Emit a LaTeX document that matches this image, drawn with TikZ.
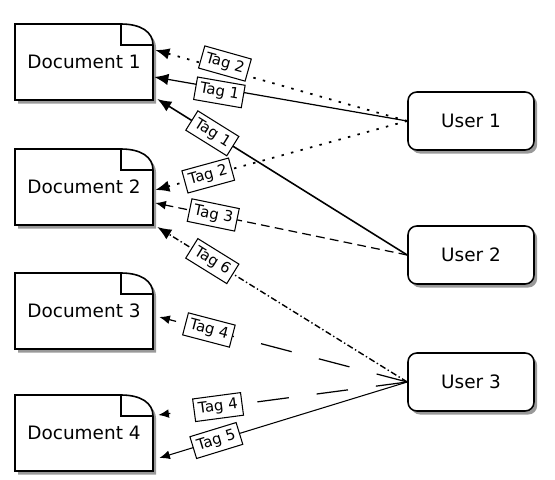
\documentclass[tikz,border=0pt]{standalone}
\usepackage{fontspec}
\setmainfont{DejaVu Sans}
\usetikzlibrary{arrows.meta,shadows}

\tikzset{
  boxshadow/.style={drop shadow={shadow xshift=1.8pt, shadow yshift=-2pt, opacity=0.8}},
  docshape/.style={draw, line width=0.9pt, fill=white, boxshadow},
  doclabel/.style={inner sep=0pt, minimum width=2.76cm, minimum height=1.52cm,
    font=\fontsize{10.5}{12}\selectfont},
  userbox/.style={draw, line width=0.9pt, fill=white, rounded corners=5pt, boxshadow,
    minimum width=2.52cm, minimum height=1.16cm, font=\fontsize{10.5}{12}\selectfont},
  tagbox/.style={draw, solid, fill=white, line width=0.6pt, inner sep=2.5pt, sloped,
    font=\fontsize{8.5}{10}\selectfont},
  tagline/.style={-{Latex[length=8pt,width=6.5pt]}, line width=0.7pt},
  smalltip/.style={-{Latex[length=6pt,width=5pt]}},
  dotline/.style={tagline, line width=1pt, dash pattern=on 1.4pt off 4.2pt},
  dashline/.style={tagline, smalltip, dash pattern=on 5pt off 3pt},
  dashdotline/.style={tagline, line width=0.8pt, dash pattern=on 3.5pt off 1.5pt on 0.8pt off 1.5pt},
  longdashline/.style={tagline, smalltip, dash pattern=on 18pt off 16pt}
}

\begin{document}
\begin{tikzpicture}[x=0.02cm, y=-0.02cm]
  \useasboundingbox (0,0) rectangle (555,480);

  % documents with a folded corner
  \foreach \n/\y in {1/62, 2/187, 3/311, 4/433}
  {
    \draw[docshape] (15,\y-38) -- (121,\y-38)
      .. controls (141,\y-38) and (153,\y-30) .. (153,\y-17)
      -- (153,\y+38) -- (15,\y+38) -- cycle;
    \draw[line width=0.9pt] (121,\y-38) |- (153,\y-17);
    \node[doclabel] (doc\n) at (84,\y) {Document \n};
  }

  % users
  \foreach \n/\y in {1/121, 2/255, 3/382}
    \node[userbox] (user\n) at (471,\y) {User \n};

  % tags
  \draw[dotline] (user1.west) -- node[tagbox, pos=0.73, above=-3.5pt] {Tag 2} ([shift={(2,-12)}]doc1.east);
  \draw[tagline] (user1.west) -- node[tagbox, pos=0.74, below=-4.5pt] {Tag 1} ([shift={(1,15)}]doc1.east);
  \draw[tagline, line width=0.9pt] (user2.west) -- node[tagbox, pos=0.78] {Tag 1} ([shift={(4,37)}]doc1.east);
  \draw[dotline] (user1.west) -- node[tagbox, pos=0.79] {Tag 2} ([shift={(2,3)}]doc2.east);
  \draw[dashline] (user2.west) -- node[tagbox, pos=0.77] {Tag 3} ([shift={(2,16)}]doc2.east);
  \draw[dashdotline] (user3.west) -- node[tagbox, pos=0.78] {Tag 6} ([shift={(4,40)}]doc2.east);
  \draw[longdashline] (user3.west) -- node[tagbox, pos=0.8] {Tag 4} ([shift={(6,6)}]doc3.east);
  \draw[longdashline] (user3.west) -- node[tagbox, pos=0.76] {Tag 4} ([shift={(5,-18)}]doc4.east);
  \draw[tagline, smalltip, line width=0.6pt] (user3.west) -- node[tagbox, pos=0.77] {Tag 5} ([shift={(6,25)}]doc4.east);
\end{tikzpicture}
\end{document}
